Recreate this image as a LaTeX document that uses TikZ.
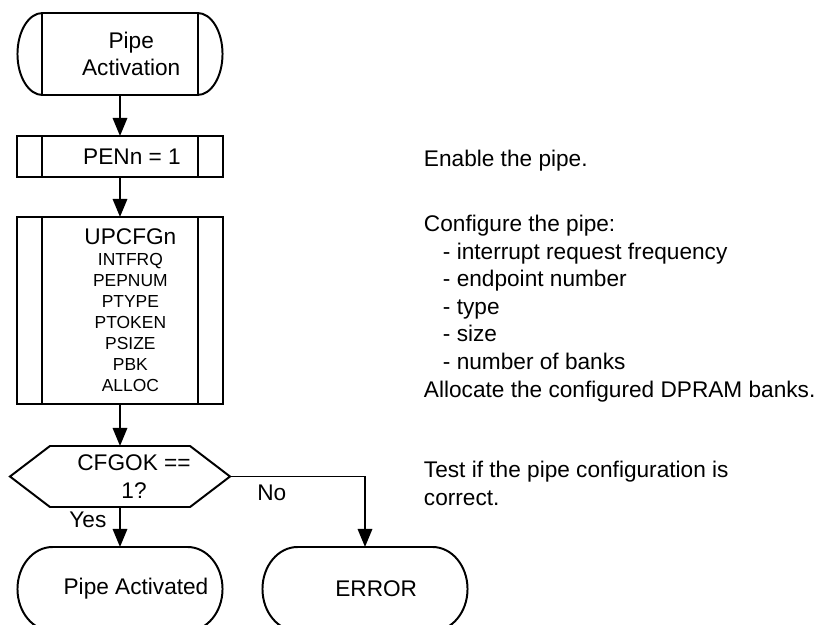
\documentclass[tikz,border=0pt]{standalone}
\usepackage{fontspec}
\setmainfont{Liberation Sans}
\usetikzlibrary{arrows.meta}
\newcommand{\mainsize}{\fontsize{16.1pt}{19.6pt}\selectfont}
\newcommand{\fieldsize}{\fontsize{12.4pt}{14.9pt}\selectfont}

\begin{document}
\begin{tikzpicture}[x=0.025cm, y=0.025cm, line width=1.4pt,
	every node/.style={font=\mainsize},
	>={Triangle[length=0.45cm, width=0.36cm]},
	term/.style={minimum width=5.125cm, minimum height=2.1cm, inner sep=0pt, outer sep=0pt},
	proc/.style={draw, minimum width=5.125cm, inner sep=0pt, outer sep=0pt},
	txt/.style={align=center, inner sep=0pt},
	note/.style={anchor=base west, align=left, inner sep=0pt}]
	\useasboundingbox (0,0) rectangle (820,-624);
	\clip (0,0) rectangle (820,-624);

	% flow chart
	\node[term, minimum height=2.05cm, label={[txt, xshift=0.28cm]center:{Pipe\\Activation}}] (act) at (120,-54) {};
	\node[proc, minimum height=1.025cm, label={[txt, xshift=0.3cm]center:{PENn = 1}}] (pen) at (120,-156.5) {};
	\node[proc, minimum height=4.675cm, label={[txt, font=\fieldsize, xshift=0.26cm]center:{{\mainsize UPCFGn}\\INTFRQ\\PEPNUM\\PTYPE\\PTOKEN\\PSIZE\\PBK\\ALLOC}}] (cfg) at (120,-310.5) {};
	\node[minimum width=5.5cm, minimum height=1.525cm, inner sep=0pt, outer sep=0pt, label={[txt, xshift=0.35cm]center:{CFGOK ==\\1?}}] (dec) at (120,-476.5) {};
	\node[term, label={[txt, xshift=0.4cm]center:{Pipe Activated}}] (ok) at (120,-589) {};
	\node[term, label={[txt, xshift=0.28cm]center:{ERROR}}] (err) at (365,-589) {};

	% outlines
	\foreach \n/\rx/\ry in {act/25/41, ok/35/42, err/35/42}
		\draw ([shift={(\rx,0)}]\n.north west) -- ([shift={(-\rx,0)}]\n.north east)
			arc[start angle=90, end angle=-90, x radius=\rx, y radius=\ry]
			-- ([shift={(\rx,0)}]\n.south west)
			arc[start angle=270, end angle=90, x radius=\rx, y radius=\ry] -- cycle;
	\foreach \n in {act,pen,cfg} {
		\draw ([shift={(25,0)}]\n.north west) -- ([shift={(25,0)}]\n.south west);
		\draw ([shift={(-25,0)}]\n.north east) -- ([shift={(-25,0)}]\n.south east);
	}
	\draw (dec.west) -- ([shift={(40,0)}]dec.north west) -- ([shift={(-40,0)}]dec.north east)
		-- (dec.east) -- ([shift={(-40,0)}]dec.south east) -- ([shift={(40,0)}]dec.south west) -- cycle;

	% connectors
	\draw[->] (act) -- (pen);
	\draw[->] (pen) -- (cfg);
	\draw[->] (cfg) -- (dec);
	\draw[->] (dec) -- node[pos=0.325, left=9pt, inner sep=0pt] (yes) {Yes} (ok);
	\draw[->] (dec.east) -| node[pos=0.155, below=5pt, inner sep=0pt] (no) {No} (err.north);

	% notes (base = last line)
	\node[note] (enable) at (423,-166) {Enable the pipe.};
	\node[note] (config) at (423,-397) {Configure the pipe:\\
		\hspace*{0.475cm}- interrupt request frequency\\
		\hspace*{0.475cm}- endpoint number\\
		\hspace*{0.475cm}- type\\
		\hspace*{0.475cm}- size\\
		\hspace*{0.475cm}- number of banks\\
		Allocate the configured DPRAM banks.};
	\node[note] (test) at (423,-505) {Test if the pipe configuration is\\correct.};
\end{tikzpicture}
\end{document}
